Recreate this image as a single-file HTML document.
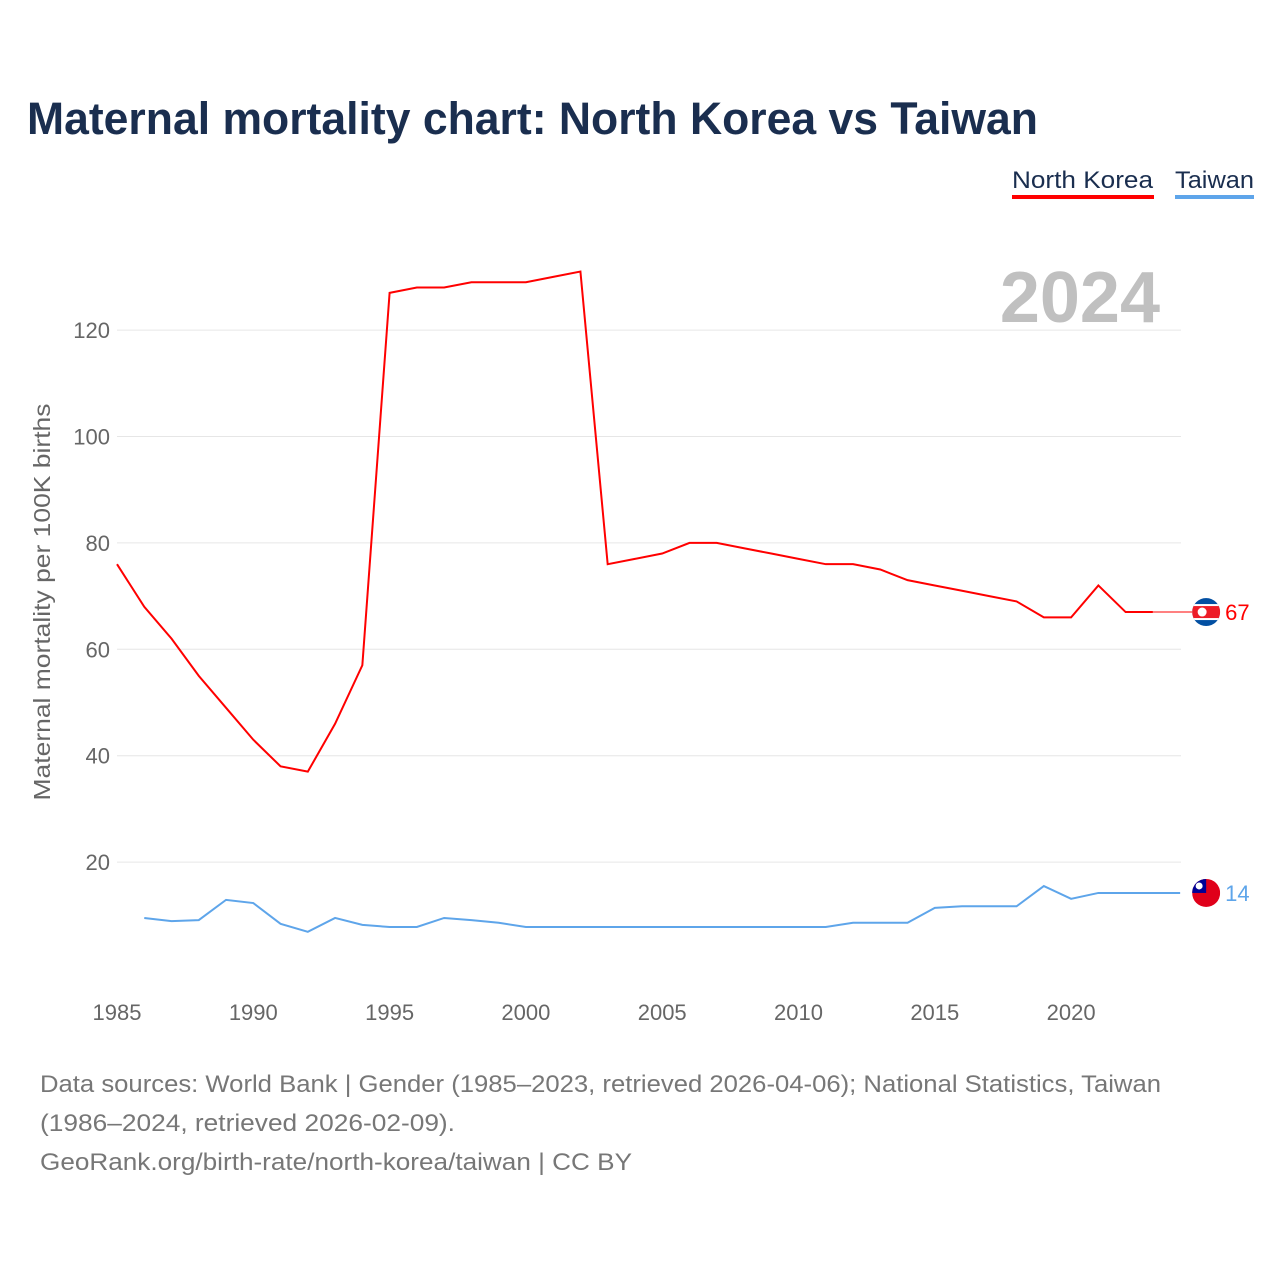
<!DOCTYPE html>
<html><head><meta charset="utf-8"><style>
body{margin:0;background:#fff;font-family:"Liberation Sans",sans-serif}
#wrap{position:relative;width:1280px;height:1280px;overflow:hidden}
</style></head><body>
<div id="wrap">
<svg id="chart" width="1280" height="1280">
<text x="27" y="134" font-size="45" font-weight="bold" fill="#1a2e4f" textLength="1011" lengthAdjust="spacingAndGlyphs">Maternal mortality chart: North Korea vs Taiwan</text>
<g><text x="1012" y="188" font-size="24" fill="#1a2e4f" textLength="141" lengthAdjust="spacingAndGlyphs">North Korea</text><rect x="1012" y="195" width="142" height="4" fill="#ff0000"/></g>
<g><text x="1175" y="188" font-size="24" fill="#1a2e4f" textLength="79" lengthAdjust="spacingAndGlyphs">Taiwan</text><rect x="1175" y="195" width="79" height="4" fill="#5ea5ea"/></g>
<text x="1160" y="322" font-size="72" font-weight="bold" fill="#c0c0c0" text-anchor="end">2024</text>
<text transform="translate(50,602) rotate(-90)" font-size="23" fill="#666" text-anchor="middle" textLength="397" lengthAdjust="spacingAndGlyphs">Maternal mortality per 100K births</text>
<g id="grid"></g><g id="series"></g>
<text x="40" y="1092" font-size="24" fill="#777" textLength="1121" lengthAdjust="spacingAndGlyphs">Data sources: World Bank | Gender (1985–2023, retrieved 2026-04-06); National Statistics, Taiwan</text>
<text x="40" y="1131" font-size="24" fill="#777" textLength="415" lengthAdjust="spacingAndGlyphs">(1986–2024, retrieved 2026-02-09).</text>
<text x="40" y="1170" font-size="24" fill="#777" textLength="592" lengthAdjust="spacingAndGlyphs">GeoRank.org/birth-rate/north-korea/taiwan | CC BY</text>
</svg></div>
<script>
const yTicks=[20,40,60,80,100,120];
const xTicks=[1985,1990,1995,2000,2005,2010,2015,2020];
const nkYears=[];for(let y=1985;y<=2023;y++)nkYears.push(y);
const nkValues=[76,68,62,55,49,43,38,37,46,57,127,128,128,129,129,129,130,131,76,77,78,80,80,79,78,77,76,76,75,73,72,71,70,69,66,66,72,67,67];
const twYears=[];for(let y=1986;y<=2024;y++)twYears.push(y);
const twValues=[9.5,8.9,9.1,12.9,12.3,8.4,6.9,9.5,8.2,7.8,7.8,9.5,9.1,8.6,7.8,7.8,7.8,7.8,7.8,7.8,7.8,7.8,7.8,7.8,7.8,7.8,8.6,8.6,8.6,11.4,11.7,11.7,11.7,15.5,13.1,14.2,14.2,14.2,14.2];
const NS="http://www.w3.org/2000/svg";
const X=v=>117+(v-1985)*27.26;
const Y=v=>968.5-v*5.32;
const grid=document.getElementById('grid'),ser=document.getElementById('series');
function mk(t,a,p){const e=document.createElementNS(NS,t);for(const k in a)e.setAttribute(k,a[k]);p.appendChild(e);return e;}
yTicks.forEach(v=>{
 const l=mk('line',{x1:117,x2:1181,y1:Y(v),y2:Y(v),stroke:'#e6e6e6','stroke-width':1},grid);
 
 
 const t=mk('text',{x:110,y:Y(v)+8,'font-size':22,fill:'#666','text-anchor':'end'},grid);t.textContent=v;
 
 
});
xTicks.forEach(v=>{
 const t=mk('text',{x:X(v),y:1020,'font-size':22,fill:'#666','text-anchor':'middle'},grid);t.textContent=v;
 
 
});
function line(xs,vs,c,name){
 const p=mk('polyline',{points:xs.map((x,i)=>X(x)+','+Y(vs[i])).join(' '),fill:'none',stroke:c,'stroke-width':2},ser);
 
 
}
line(nkYears,nkValues,'#ff0000','north-korea-line');
line(twYears,twValues,'#5ea5ea','taiwan-line');
const nkLast=nkValues[nkValues.length-1],twLast=twValues[twValues.length-1];
const c1=mk('line',{x1:X(2023),x2:X(2024)+26,y1:Y(nkLast),y2:Y(nkLast),stroke:'#ff0000','stroke-width':1},ser);


const fx=X(2024)+26;
let g=mk('g',{},ser);


const cp1=mk('clipPath',{id:'c1'},g);mk('circle',{cx:fx,cy:Y(nkLast),r:14},cp1);
const gg=mk('g',{'clip-path':'url(#c1)'},g);
mk('rect',{x:fx-14,y:Y(nkLast)-14,width:28,height:28,fill:'#024fa2'},gg);
mk('rect',{x:fx-14,y:Y(nkLast)-8,width:28,height:16,fill:'#fff'},gg);
mk('rect',{x:fx-14,y:Y(nkLast)-6,width:28,height:12,fill:'#ed1c27'},gg);
mk('circle',{cx:fx-4,cy:Y(nkLast),r:4.5,fill:'#fff'},gg);
let t=mk('text',{x:fx+19,y:Y(nkLast)+8,'font-size':22,fill:'#ff0000'},ser);t.textContent=nkLast;


g=mk('g',{},ser);


const cp=mk('clipPath',{id:'c2'},g);mk('circle',{cx:fx,cy:Y(twLast),r:14},cp);
const g2=mk('g',{'clip-path':'url(#c2)'},g);
mk('rect',{x:fx-14,y:Y(twLast)-14,width:28,height:28,fill:'#e0001a'},g2);
mk('rect',{x:fx-14,y:Y(twLast)-14,width:14,height:14,fill:'#000095'},g2);
mk('circle',{cx:fx-7,cy:Y(twLast)-7,r:3.5,fill:'#fff'},g2);
t=mk('text',{x:fx+19,y:Y(twLast)+8,'font-size':22,fill:'#5ea5ea'},ser);t.textContent=Math.round(twLast);


</script>
</body></html>
